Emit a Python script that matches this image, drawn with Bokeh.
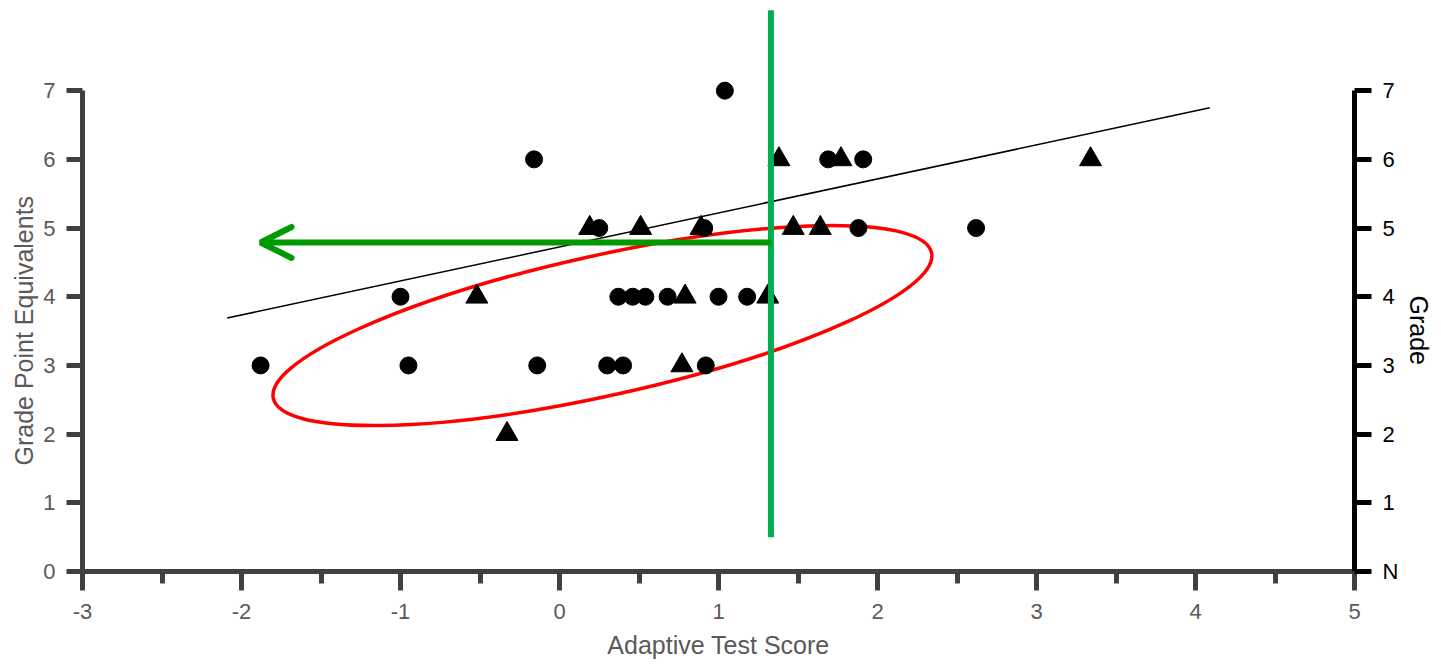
from bokeh.plotting import figure
from bokeh.models import LinearAxis, FixedTicker, Arrow, OpenHead, Title
from bokeh.embed import file_html
from bokeh.resources import INLINE

# data
circle_x = [-1.88, -1.00, -0.95, -0.16, -0.14, 0.25, 0.37, 0.46, 0.54, 0.30, 0.40,
            0.68, 0.91, 0.92, 1.00, 1.04, 1.18, 1.69, 1.91, 1.88, 2.62]
circle_y = [3, 4, 3, 6, 3, 5, 4, 4, 4, 3, 3, 4, 5, 3, 4, 7, 4, 6, 6, 5, 5]
tri_x = [-0.52, -0.33, 0.19, 0.51, 0.89, 0.77, 0.79, 1.31, 1.38, 1.47, 1.64, 1.77, 3.34]
tri_y = [4, 2, 5, 5, 5, 3, 4, 4, 6, 5, 5, 6, 6]
trend_x = [-2.09, 4.09]
trend_y = [3.69, 6.75]
x_ticks = [-3, -2, -1, 0, 1, 2, 3, 4, 5]
x_labels = ["-3", "-2", "-1", "0", "1", "2", "3", "4", "5"]
y_ticks = [0, 1, 2, 3, 4, 5, 6, 7]
grade_labels = ["N", "1", "2", "3", "4", "5", "6", "7"]
ellipse_center = (0.27, 3.58)
ellipse_size = (4.24, 2.04)
ellipse_angle = 0.218
cut_x = 1.33
cut_y_span = [0.5, 8.17]
arrow_y = 4.79
arrow_tip_x = -1.88

FONT = "Liberation Sans"
GRAY_AX = "#404040"
GRAY_TX = "#595959"

p = figure(width=1441, height=664, x_range=(-3, 5), y_range=(0, 8.24),
           output_backend="svg", toolbar_location=None,
           min_border_left=82, min_border_right=87, min_border_bottom=93, min_border_top=5,
           x_axis_location=None, y_axis_location=None)
p.grid.visible = False
p.outline_line_color = None
p.background_fill_color = "white"

xax = LinearAxis(axis_label="Adaptive Test Score",
                 ticker=FixedTicker(ticks=x_ticks, minor_ticks=[t + 0.5 for t in x_ticks[:-1]]))
xax.major_label_overrides = {t: lab for t, lab in zip(x_ticks, x_labels)}
xax.axis_line_color = GRAY_AX
xax.axis_line_width = 5
xax.major_tick_line_color = GRAY_AX
xax.major_tick_line_width = 5
xax.major_tick_out = 19
xax.major_tick_in = 0
xax.minor_tick_line_color = GRAY_AX
xax.minor_tick_line_width = 5
xax.minor_tick_out = 12
xax.minor_tick_in = 0
xax.major_label_text_color = GRAY_TX
xax.major_label_text_font = FONT
xax.major_label_text_font_size = "22px"
xax.major_label_standoff = 13
xax.axis_label_text_color = GRAY_TX
xax.axis_label_text_font = FONT
xax.axis_label_text_font_size = "25px"
xax.axis_label_text_font_style = "normal"
xax.axis_label_standoff = 9
p.add_layout(xax, "below")

yax = LinearAxis(ticker=FixedTicker(ticks=y_ticks))
yax.bounds = (0, 7)
yax.axis_line_color = GRAY_AX
yax.axis_line_width = 5
yax.major_tick_line_color = GRAY_AX
yax.major_tick_line_width = 5
yax.major_tick_out = 16
yax.major_tick_in = 0
yax.minor_tick_line_color = None
yax.major_label_text_color = GRAY_TX
yax.major_label_text_font = FONT
yax.major_label_text_font_size = "22px"
yax.major_label_standoff = 11
p.add_layout(yax, "left")

rax = LinearAxis(ticker=FixedTicker(ticks=y_ticks))
rax.bounds = (0, 7)
rax.major_label_overrides = {t: lab for t, lab in zip(y_ticks, grade_labels)}
rax.axis_line_color = "black"
rax.axis_line_width = 5
rax.major_tick_line_color = "black"
rax.major_tick_line_width = 5
rax.major_tick_out = 17
rax.major_tick_in = 0
rax.minor_tick_line_color = None
rax.major_label_text_color = "black"
rax.major_label_text_font = FONT
rax.major_label_text_font_size = "22px"
rax.major_label_standoff = 11
p.add_layout(rax, "right")

# axis titles of the vertical axes, placed along the 0..7 span
p.add_layout(Title(text="Grade Point Equivalents", align="left", offset=106, standoff=6,
                   text_font=FONT, text_font_size="25px", text_font_style="normal",
                   text_color=GRAY_TX), "left")
p.add_layout(Title(text="Grade", align="left", offset=290, standoff=6,
                   text_font=FONT, text_font_size="25px", text_font_style="normal",
                   text_color="black"), "right")

# regression line
p.line(trend_x, trend_y, line_color="black", line_width=1.5)

# ellipse
p.ellipse(x=[ellipse_center[0]], y=[ellipse_center[1]], width=[ellipse_size[0]], height=[ellipse_size[1]],
          angle=[ellipse_angle], fill_color=None, line_color="#ff0000", line_width=3.5)

# points
p.scatter(circle_x, circle_y, marker="circle", size=17, fill_color="black", line_color="black")
p.scatter(tri_x, tri_y, marker="triangle", size=22, fill_color="black", line_color="black")

# green arrow
p.add_layout(Arrow(end=OpenHead(size=31, line_color="#009900", line_width=6, line_cap="round"),
                   x_start=cut_x, y_start=arrow_y, x_end=arrow_tip_x, y_end=arrow_y,
                   line_color="#009900", line_width=6))
# green vertical cut line
p.line([cut_x, cut_x], cut_y_span, line_color="#00b050", line_width=6)

open("out.html", "w").write(file_html(p, INLINE))
